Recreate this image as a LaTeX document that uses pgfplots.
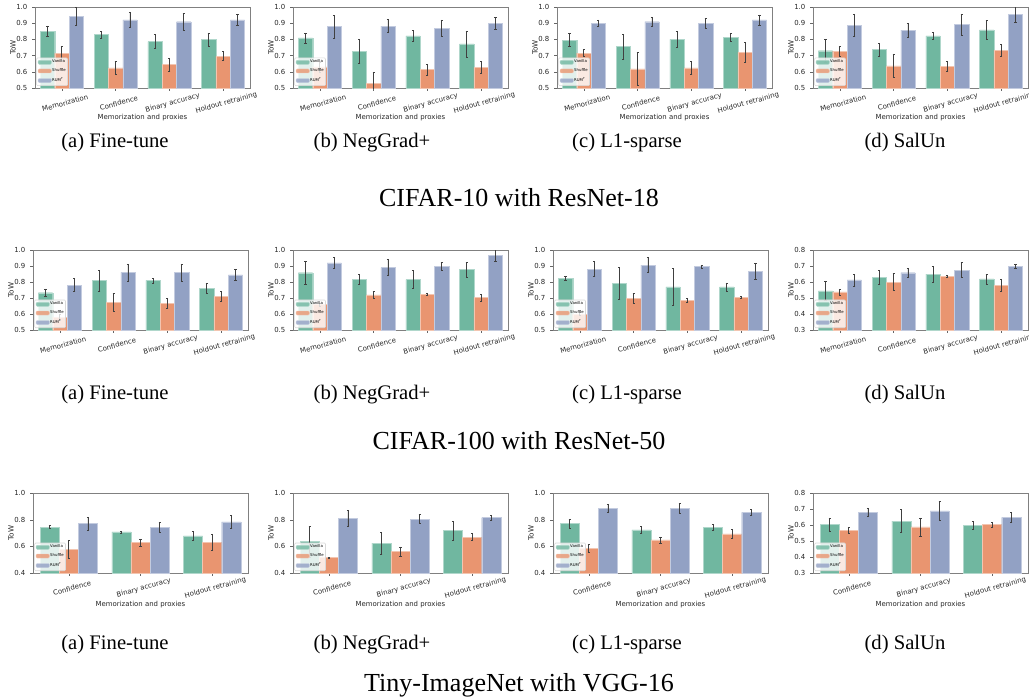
\documentclass[border=0pt]{standalone}
\usepackage{fontspec}
\setmainfont{Liberation Serif}
\newfontfamily\plotfont{DejaVu Sans}
\usepackage{pgfplots}
\usepackage{pgfplotstable}
\pgfplotsset{compat=1.18}

\definecolor{cV}{RGB}{112,183,160}
\definecolor{cS}{RGB}{233,149,112}
\definecolor{cR}{RGB}{146,161,196}

% CIFAR-10 / ResNet-18
\pgfplotstableread{
x V Ve S Se R Re
0 0.851 0.033 0.714 0.045 0.942 0.055
1 0.830 0.020 0.625 0.040 0.920 0.045
2 0.786 0.043 0.645 0.040 0.909 0.053
3 0.800 0.040 0.697 0.027 0.921 0.034
}\raa
\pgfplotstableread{
x V Ve S Se R Re
0 0.809 0.030 0.630 0.030 0.880 0.070
1 0.726 0.073 0.529 0.070 0.882 0.040
2 0.822 0.035 0.614 0.033 0.869 0.052
3 0.772 0.080 0.627 0.036 0.900 0.037
}\rab
\pgfplotstableread{
x V Ve S Se R Re
0 0.795 0.040 0.716 0.023 0.900 0.020
1 0.755 0.075 0.618 0.100 0.909 0.030
2 0.800 0.048 0.625 0.040 0.900 0.032
3 0.813 0.025 0.720 0.061 0.921 0.031
}\rac
\pgfplotstableread{
x V Ve S Se R Re
0 0.730 0.072 0.728 0.031 0.888 0.070
1 0.737 0.040 0.637 0.073 0.857 0.044
2 0.822 0.024 0.635 0.030 0.892 0.065
3 0.859 0.058 0.734 0.035 0.956 0.050
}\rad
% CIFAR-100 / ResNet-50
\pgfplotstableread{
x V Ve S Se R Re
0 0.733 0.024 0.580 0.020 0.781 0.042
1 0.810 0.065 0.671 0.057 0.860 0.053
2 0.810 0.015 0.667 0.031 0.860 0.053
3 0.760 0.030 0.710 0.033 0.844 0.033
}\rba
\pgfplotstableread{
x V Ve S Se R Re
0 0.858 0.070 0.660 0.010 0.919 0.035
1 0.817 0.030 0.719 0.020 0.890 0.050
2 0.815 0.056 0.723 0.005 0.898 0.025
3 0.877 0.047 0.702 0.020 0.967 0.040
}\rbb
\pgfplotstableread{
x V Ve S Se R Re
0 0.821 0.012 0.600 0.010 0.881 0.047
1 0.792 0.100 0.698 0.033 0.906 0.048
2 0.769 0.115 0.685 0.014 0.896 0.010
3 0.769 0.026 0.702 0.006 0.867 0.050
}\rbc
\pgfplotstableread{
x V Ve S Se R Re
0 0.544 0.060 0.538 0.018 0.613 0.037
1 0.629 0.042 0.600 0.054 0.658 0.027
2 0.650 0.049 0.635 0.006 0.675 0.048
3 0.619 0.031 0.579 0.040 0.700 0.012
}\rbd
% Tiny-ImageNet / VGG-16
\pgfplotstableread{
x V Ve S Se R Re
0 0.745 0.012 0.575 0.068 0.770 0.048
1 0.708 0.008 0.628 0.028 0.743 0.035
2 0.678 0.033 0.630 0.063 0.783 0.049
}\rca
\pgfplotstableread{
x V Ve S Se R Re
0 0.635 0.115 0.515 0.005 0.810 0.057
1 0.625 0.081 0.560 0.036 0.805 0.035
2 0.718 0.070 0.670 0.028 0.815 0.020
}\rcb
\pgfplotstableread{
x V Ve S Se R Re
0 0.770 0.033 0.585 0.027 0.885 0.030
1 0.723 0.025 0.648 0.023 0.885 0.035
2 0.743 0.019 0.693 0.035 0.855 0.025
}\rcc
\pgfplotstableread{
x V Ve S Se R Re
0 0.602 0.042 0.567 0.016 0.681 0.026
1 0.625 0.073 0.588 0.057 0.688 0.060
2 0.600 0.025 0.602 0.015 0.648 0.031
}\rcd

\pgfplotsset{
  towbase/.style={
    scale only axis, width=161.25pt, anchor=north west,
    xmin=-0.5, ybar, bar width=0.2667,
    axis line style={black!50}, tick style={black!60},
    major tick length=2.2pt, tick align=outside,
    xtick pos=bottom, ytick pos=left,
    /pgf/number format/assume math mode=true,
    tick label style={font=\plotfont\fontsize{5.2}{6}\selectfont, text=black!85},
    yticklabel style={/pgf/number format/.cd, fixed, fixed zerofill, precision=1},
    xticklabel style={rotate=15, anchor=center, yshift=-9.4pt},
    ylabel={ToW},
    ylabel style={font=\plotfont\fontsize{5.4}{6}\selectfont, text=black!85,
      at={(axis description cs:-0.1023,0.5)}, anchor=center},
    xlabel style={font=\plotfont\fontsize{5.2}{6}\selectfont, text=black!85, anchor=center},
    legend style={at={(0.006,0.025)}, anchor=south west,
      font=\plotfont\fontsize{2.9}{3.2}\selectfont, draw=black!15, rounded corners=0.8pt,
      fill=white, fill opacity=0.8, text opacity=1, inner sep=1pt,
      nodes={inner sep=0.4pt}, row sep=2pt, cells={anchor=west},
      /tikz/every even column/.append style={column sep=1.5pt}},
    legend image code/.code={\fill[#1] (0pt,-1.5pt) rectangle (10pt,1.5pt);},
  },
  four/.style={xmax=3.5, xtick={0,1,2,3},
    xticklabels={Memorization,Confidence,Binary accuracy,Holdout retraining}},
  three/.style={xmax=2.5, xtick={0,1,2},
    xticklabels={Confidence,Binary accuracy,Holdout retraining}},
  yA/.style={ymin=0.5, ymax=1.0, ytick={0.5,0.6,0.7,0.8,0.9,1.0}},
  yB/.style={ymin=0.3, ymax=0.8, ytick={0.3,0.4,0.5,0.6,0.7,0.8}},
  yC/.style={ymin=0.4, ymax=1.0, ytick={0.4,0.6,0.8,1.0}},
  errs/.style={error bars/.cd, y dir=both, y explicit,
    error bar style={line width=0.6pt, black!75},
    error mark options={rotate=90, mark size=0.8pt, line width=0.4pt, black!75}},
}

% one panel: x, y, height, table, extra options
\newcommand\towplot[5]{%
\begin{axis}[towbase, at={(#1,#2)}, height=#3, #5]
\addplot[fill=cV, draw=cV!55!white, line width=0.3pt, bar shift=-0.2667, errs] table[x=x,y=V,y error=Ve]{#4};
\addplot[fill=cS, draw=cS!55!white, line width=0.3pt, bar shift=0, errs] table[x=x,y=S,y error=Se]{#4};
\addplot[fill=cR, draw=cR!55!white, line width=0.3pt, bar shift=0.2667, errs] table[x=x,y=R,y error=Re]{#4};
\legend{Vanilla,Shuffle,RUM\textsuperscript{\itshape F}}
\end{axis}}

\begin{document}
\begin{tikzpicture}
\useasboundingbox (0,0) rectangle (771.75pt,-525pt);
\tikzset{captxt/.style={font=\fontsize{15.5}{17}\selectfont, anchor=center},
  titletxt/.style={font=\fontsize{19.5}{21}\selectfont, anchor=center}}

% row 1
\towplot{26.25pt}{-5.25pt}{60.75pt}{\raa}{four, yA, xlabel={Memorization and proxies}, xlabel style={at={(axis description cs:0.5,-0.37)}}}
\towplot{219.75pt}{-5.25pt}{60.75pt}{\rab}{four, yA, xlabel={Memorization and proxies}, xlabel style={at={(axis description cs:0.5,-0.37)}}}
\towplot{417.75pt}{-5.25pt}{60.75pt}{\rac}{four, yA, xlabel={Memorization and proxies}, xlabel style={at={(axis description cs:0.5,-0.37)}}}
\towplot{609.75pt}{-5.25pt}{60.75pt}{\rad}{four, yA, xlabel={Memorization and proxies}, xlabel style={at={(axis description cs:0.5,-0.37)}}}
\node[captxt] at (86.25pt,-107.25pt) {(a) Fine-tune};
\node[captxt] at (279pt,-107.25pt) {(b) NegGrad+};
\node[captxt] at (470.25pt,-107.25pt) {(c) L1-sparse};
\node[captxt] at (678.75pt,-107.25pt) {(d) SalUn};
\node[titletxt] at (389.25pt,-148.5pt) {CIFAR-10 with ResNet-18};

% row 2
\towplot{24.75pt}{-187.5pt}{60pt}{\rba}{four, yA}
\towplot{219.75pt}{-187.5pt}{60pt}{\rbb}{four, yA}
\towplot{414.75pt}{-187.5pt}{60pt}{\rbc}{four, yA}
\towplot{609.75pt}{-187.5pt}{60pt}{\rbd}{four, yB}
\node[captxt] at (86.25pt,-296.25pt) {(a) Fine-tune};
\node[captxt] at (279pt,-296.25pt) {(b) NegGrad+};
\node[captxt] at (470.25pt,-296.25pt) {(c) L1-sparse};
\node[captxt] at (678.75pt,-296.25pt) {(d) SalUn};
\node[titletxt] at (389.25pt,-330.5pt) {CIFAR-100 with ResNet-50};

% row 3
\towplot{24.75pt}{-369.75pt}{60pt}{\rca}{three, yC, xlabel={Memorization and proxies}, xlabel style={at={(axis description cs:0.5,-0.40)}}}
\towplot{219.75pt}{-369.75pt}{60pt}{\rcb}{three, yC, xlabel={Memorization and proxies}, xlabel style={at={(axis description cs:0.5,-0.40)}}}
\towplot{414.75pt}{-369.75pt}{60pt}{\rcc}{three, yC, xlabel={Memorization and proxies}, xlabel style={at={(axis description cs:0.5,-0.40)}}}
\towplot{609.75pt}{-369.75pt}{60pt}{\rcd}{three, yB, xlabel={Memorization and proxies}, xlabel style={at={(axis description cs:0.5,-0.40)}}}
\node[captxt] at (86.25pt,-483.75pt) {(a) Fine-tune};
\node[captxt] at (279pt,-483.75pt) {(b) NegGrad+};
\node[captxt] at (470.25pt,-483.75pt) {(c) L1-sparse};
\node[captxt] at (678.75pt,-483.75pt) {(d) SalUn};
\node[titletxt] at (389.25pt,-514pt) {Tiny-ImageNet with VGG-16};
\end{tikzpicture}
\end{document}
